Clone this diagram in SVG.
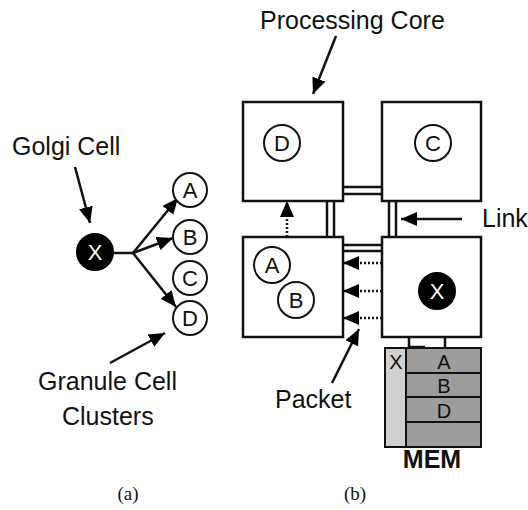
<svg xmlns="http://www.w3.org/2000/svg" width="528" height="510" viewBox="0 0 528 510">
<style>
.lbl{font-family:"Liberation Sans",Arial,sans-serif;font-size:25px;fill:#111}
.cl{font-family:"Liberation Sans",Arial,sans-serif;font-size:22px;fill:#111;text-anchor:middle}
.ml{font-family:"Liberation Sans",Arial,sans-serif;font-size:20px;fill:#111;text-anchor:middle}
.cap{font-family:"Liberation Serif","Times New Roman",serif;font-size:19px;fill:#111;text-anchor:middle}
.circ{fill:#fff;stroke:#111;stroke-width:2}
.blk{fill:#000;stroke:#000;stroke-width:2}
.box{fill:#fff;stroke:#111;stroke-width:2.5}
.ln{stroke:#111;stroke-width:2.5;fill:none}
.arr{stroke:#111;stroke-width:2.5;fill:none;marker-end:url(#ah)}
.dot{stroke:#111;stroke-width:2.5;fill:none;stroke-dasharray:2 2;marker-end:url(#ah)}
</style>
<defs>
<marker id="ah" markerUnits="userSpaceOnUse" markerWidth="16" markerHeight="14" refX="16" refY="7" orient="auto">
<path d="M0,0 L16,7 L0,14 z" fill="#000"/>
</marker>
</defs>
<rect width="528" height="510" fill="#fff"/>

<!-- (a) panel -->
<g id="connectors-a">
<line class="arr" x1="75" y1="167" x2="90" y2="223"/>
<line class="ln" x1="113" y1="253" x2="133" y2="253"/>
<line class="arr" x1="133" y1="253" x2="178" y2="198"/>
<line class="arr" x1="133" y1="253" x2="173" y2="238"/>
<line class="arr" x1="133" y1="253" x2="176" y2="307"/>
<line class="arr" x1="110" y1="363" x2="165" y2="333"/>
</g>
<g id="golgi-x"><circle class="blk" cx="95" cy="252" r="18"/><text class="cl" x="95" y="260" style="fill:#fff">X</text></g>
<g id="granule-a"><circle class="circ" cx="190" cy="190" r="17"/><text class="cl" x="190" y="198">A</text></g>
<g id="granule-b"><circle class="circ" cx="190" cy="237" r="17"/><text class="cl" x="190" y="245">B</text></g>
<g id="granule-c"><circle class="circ" cx="190" cy="278" r="17"/><text class="cl" x="190" y="286">C</text></g>
<g id="granule-d"><circle class="circ" cx="190" cy="318" r="17"/><text class="cl" x="190" y="326">D</text></g>
<g id="labels-a">
<text class="lbl" x="12" y="155">Golgi Cell</text>
<text class="lbl" x="38" y="390">Granule Cell</text>
<text class="lbl" x="62" y="425">Clusters</text>
<text class="cap" x="128" y="500">(a)</text>
</g>

<!-- (b) panel -->
<g id="links">
<line class="ln" x1="343" y1="187" x2="382" y2="187"/>
<line class="ln" x1="343" y1="194" x2="382" y2="194"/>
<line class="ln" x1="343" y1="245" x2="382" y2="245"/>
<line class="ln" x1="343" y1="251" x2="382" y2="251"/>
<line class="ln" x1="327" y1="201" x2="327" y2="237"/>
<line class="ln" x1="334" y1="201" x2="334" y2="237"/>
<line class="ln" x1="389" y1="201" x2="389" y2="237"/>
<line class="ln" x1="396" y1="201" x2="396" y2="237"/>
</g>
<g id="core-tl"><rect class="box" x="243" y="102" width="100" height="99"/><circle class="circ" cx="282" cy="143" r="18"/><text class="cl" x="282" y="151">D</text></g>
<g id="core-tr"><rect class="box" x="382" y="102" width="99" height="99"/><circle class="circ" cx="433" cy="143" r="18"/><text class="cl" x="433" y="151">C</text></g>
<g id="core-bl"><rect class="box" x="243" y="237" width="100" height="100"/><circle class="circ" cx="272" cy="265" r="18"/><text class="cl" x="272" y="273">A</text><circle class="circ" cx="296" cy="300" r="18"/><text class="cl" x="296" y="308">B</text></g>
<g id="core-br"><rect class="box" x="382" y="237" width="99" height="100"/><circle class="blk" cx="437" cy="291" r="18"/><text class="cl" x="437" y="299" style="fill:#fff">X</text></g>
<g id="mem">
<rect x="385" y="348" width="21" height="99" fill="#d0d0d0" stroke="#111" stroke-width="2"/>
<rect x="406" y="348" width="75" height="99" fill="#9c9c9c" stroke="#111" stroke-width="2"/>
<line class="ln" x1="406" y1="373" x2="481" y2="373" style="stroke-width:2"/>
<line class="ln" x1="406" y1="397" x2="481" y2="397" style="stroke-width:2"/>
<line class="ln" x1="406" y1="422" x2="481" y2="422" style="stroke-width:2"/>
<text class="ml" x="396" y="369">X</text>
<text class="ml" x="444" y="369">A</text>
<text class="ml" x="444" y="393">B</text>
<text class="ml" x="444" y="418">D</text>
<text class="lbl" x="432" y="468" style="text-anchor:middle;font-weight:bold">MEM</text>
</g>
<g id="connectors-b">
<line class="ln" x1="409" y1="337" x2="409" y2="348"/>
<line class="ln" x1="445" y1="337" x2="445" y2="348"/>
<line class="ln" x1="409" y1="347" x2="425" y2="347"/>
<line class="arr" x1="336" y1="36" x2="313" y2="94"/>
<line class="arr" x1="462" y1="219" x2="401" y2="219"/>
<line class="arr" x1="332" y1="383" x2="359" y2="329"/>
<line class="dot" x1="382" y1="263" x2="343" y2="263"/>
<line class="dot" x1="382" y1="291" x2="343" y2="291"/>
<line class="dot" x1="382" y1="318" x2="343" y2="318"/>
<line class="dot" x1="287" y1="237" x2="287" y2="201"/>
</g>
<g id="labels-b">
<text class="lbl" x="260" y="29">Processing Core</text>
<text class="lbl" x="482" y="227">Link</text>
<text class="lbl" x="275" y="408">Packet</text>
<text class="cap" x="355" y="500">(b)</text>
</g>
</svg>
